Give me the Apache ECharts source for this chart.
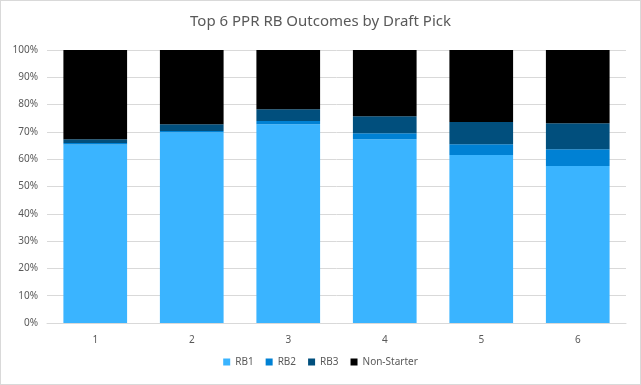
<!DOCTYPE html>
<html><head><meta charset="utf-8">
<script src="https://cdn.jsdelivr.net/npm/echarts@6/dist/echarts.min.js"></script>
<style>html,body{margin:0;padding:0;background:#fff}#c{width:641px;height:385px;box-sizing:border-box;border:1px solid #d9d9d9}</style>
</head><body><div id="c"></div>
<script>
const categories = ['1','2','3','4','5','6'];
const rb1 = [65.4, 69.9, 72.8, 67.3, 61.5, 57.5];
const rb2 = [0.5, 0.4, 1.2, 2.2, 4.0, 6.1];
const rb3 = [1.4, 2.5, 4.3, 6.2, 8.1, 9.6];
const nonStarter = rb1.map((v,i)=>+(100 - v - rb2[i] - rb3[i]).toFixed(1));
const colors = ['#3AB4FF','#0081D4','#014F7D','#000000'];
const chart = echarts.init(document.getElementById('c'));
const mk = (name, data, i) => ({name, type:'bar', stack:'s', data, barWidth:'66%', itemStyle:{color:colors[i]}});
chart.setOption({
  animation:false,
  title:{text:'Top 6 PPR RB Outcomes by Draft Pick', left:'center', top:8,
    textStyle:{fontFamily:'Noto Sans', fontSize:15, fontWeight:'normal', color:'#595959'}},
  legend:{bottom:12, left:'center', itemWidth:7, itemHeight:7, itemGap:12, icon:'rect',
    textStyle:{fontFamily:'Noto Sans', fontSize:10, color:'#595959'},
    data:['RB1','RB2','RB3','Non-Starter']},
  grid:{left:46, right:14, top:49, bottom:61},
  xAxis:{type:'category', data:categories,
    axisLine:{lineStyle:{color:'#d9d9d9'}}, axisTick:{show:false},
    axisLabel:{color:'#595959', fontFamily:'Noto Sans', fontSize:10, margin:12}},
  yAxis:{type:'value', min:0, max:100, interval:10,
    axisLabel:{formatter:'{value}%', color:'#595959', fontFamily:'Noto Sans', fontSize:10, margin:9},
    splitLine:{lineStyle:{color:'#d9d9d9'}}, axisLine:{show:false}, axisTick:{show:false}},
  series:[mk('RB1',rb1,0), mk('RB2',rb2,1), mk('RB3',rb3,2), mk('Non-Starter',nonStarter,3)]
});
</script></body></html>
